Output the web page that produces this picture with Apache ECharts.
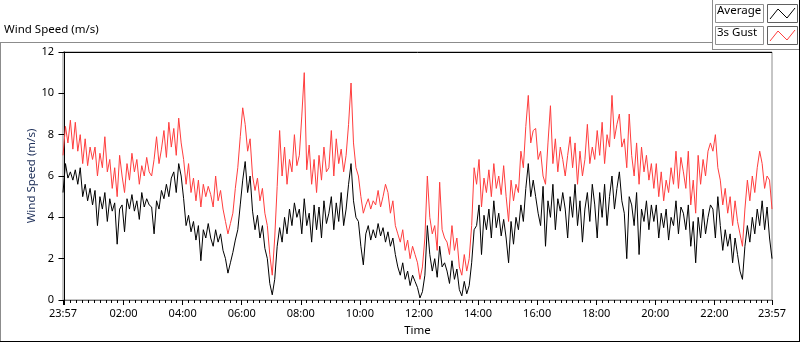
<!DOCTYPE html>
<html>
<head>
<meta charset="utf-8">
<script src="https://cdn.jsdelivr.net/npm/echarts@6/dist/echarts.min.js"></script>
<style>
html,body{margin:0;padding:0;background:#fff;}
#c{width:800px;height:342px;}
</style>
</head>
<body>
<div id="c"></div>
<script>
// Time axis: minutes relative to 00:00, samples every 5 minutes starting 23:57 (-3)
var startMinute = -3;
var stepMinutes = 5;
var axisMin = -3, axisMax = 1437;
var labelMinutes = [-3, 120, 240, 360, 480, 600, 720, 840, 960, 1080, 1200, 1320, 1437];
var majorTickMinutes = [-3, 0, 120, 240, 360, 480, 600, 720, 840, 960, 1080, 1200, 1320, 1437];
var yTicks = [0, 2, 4, 6, 8, 10, 12];

// Average wind speed (m/s), one row per hour
var average = [
  5.2, 6.6, 5.9, 6.2, 5.8, 6.3, 5.6, 6.4, 5.0, 5.6, 4.8, 5.4,
  4.6, 5.3, 3.6, 5.0, 4.4, 5.2, 3.8, 4.9, 4.3, 4.7, 2.7, 4.4,
  4.6, 3.3, 4.9, 4.4, 5.1, 4.3, 4.8, 3.9, 5.2, 4.5, 4.9, 4.6,
  4.5, 3.2, 4.8, 4.4, 5.3, 4.9, 5.6, 5.0, 5.9, 6.2, 5.2, 6.6,
  6.0, 4.9, 3.6, 4.1, 3.3, 3.8, 2.9, 3.6, 1.9, 3.4, 3.0, 3.7,
  3.0, 2.6, 3.4, 2.8, 3.2, 2.4, 2.0, 1.3, 1.8, 2.3, 2.9, 3.4,
  4.6, 5.8, 6.7, 5.2, 6.0, 4.3, 3.4, 4.1, 3.0, 3.6, 2.5, 2.0,
  0.8, 0.25, 1.0, 2.6, 3.5, 2.8, 4.0, 3.2, 4.4, 3.6, 4.7, 4.0,
  4.4, 3.2, 4.9, 3.6, 4.2, 2.8, 4.6, 3.4, 4.5, 3.0, 4.8, 3.7,
  4.2, 5.0, 3.4, 4.7, 3.8, 5.2, 3.6, 4.4, 5.6, 6.6, 4.8, 4.0,
  3.8, 2.6, 1.7, 3.2, 3.6, 2.9, 3.4, 3.0, 3.7, 3.1, 3.5, 2.8,
  3.3, 2.6, 3.0, 2.2, 1.6, 1.2, 1.8, 1.0, 1.4, 0.7, 1.2, 0.9,
  0.6, 0.1, 0.4, 1.2, 3.6, 2.2, 1.4, 2.0, 1.1, 2.6, 1.6, 1.8,
  1.4, 0.8, 1.9, 1.0, 1.5, 0.5, 0.2, 0.9, 0.3, 0.7, 1.8, 3.4,
  3.6, 4.6, 2.2, 4.1, 3.4, 4.4, 3.0, 4.8, 3.5, 4.2, 3.1, 3.9,
  3.0, 1.8, 3.8, 2.7, 4.0, 3.4, 4.6, 3.8, 5.4, 6.6, 5.0, 5.8,
  5.0, 4.2, 3.6, 5.5, 2.6, 4.8, 4.0, 5.6, 3.4, 4.9, 4.3, 5.2,
  4.4, 3.0, 5.0, 4.0, 5.6, 3.6, 4.8, 2.8, 4.4, 5.2, 3.8, 5.6,
  4.6, 3.0, 5.2, 4.0, 5.6, 3.6, 5.0, 6.0, 4.4, 5.4, 6.2, 4.8,
  4.2, 2.0, 5.0, 4.6, 3.6, 5.2, 2.2, 4.4, 3.8, 4.8, 3.4, 4.6,
  3.8, 4.6, 3.0, 4.2, 3.5, 4.4, 2.9, 4.0, 3.6, 4.8, 3.2, 4.5,
  4.2, 3.4, 4.6, 2.6, 3.8, 1.8, 4.0, 3.0, 4.4, 3.2, 4.0, 4.6,
  4.4, 3.0, 5.0, 3.6, 2.4, 3.4, 2.6, 3.2, 1.8, 3.0, 2.2, 1.4,
  1.0, 2.6, 3.6, 2.8, 4.0, 3.2, 4.4, 3.6, 4.8, 3.4, 4.5, 3.0,
  2.0
];

// 3 second gust (m/s), one row per hour
var gust = [
  7.0, 8.4, 7.6, 8.7, 7.3, 8.6, 7.2, 8.0, 6.6, 7.8, 6.5, 7.4,
  6.8, 7.4, 6.0, 7.1, 6.4, 7.9, 6.2, 6.8, 5.4, 6.4, 5.0, 7.0,
  6.0, 5.2, 6.6, 5.8, 7.1, 6.2, 6.8, 5.6, 6.5, 6.0, 6.9, 6.2,
  6.0, 6.8, 7.9, 6.6, 7.3, 8.2, 6.9, 8.6, 7.4, 8.3, 7.0, 8.8,
  7.6, 6.8, 5.6, 6.6, 5.2, 5.9, 4.8, 5.8, 4.5, 5.6, 5.0, 5.5,
  5.1, 4.5, 6.0, 4.8, 5.3, 4.4, 3.8, 3.2, 3.7, 4.2, 5.4, 6.4,
  7.9, 9.3, 8.5, 7.2, 7.8, 6.0, 5.3, 5.9, 4.8, 5.4, 4.2, 3.6,
  2.2, 1.2, 3.0, 5.5, 8.2, 6.0, 7.4, 5.6, 6.8, 6.2, 8.0, 6.5,
  7.0, 8.9, 11.0, 6.3, 7.5, 5.6, 6.8, 5.2, 7.0, 5.8, 7.4, 6.2,
  6.4, 8.2, 6.0, 7.8, 6.6, 7.3, 6.2, 7.0, 8.5, 10.5, 7.6, 6.4,
  6.0, 5.0, 4.2, 4.6, 4.9, 4.4, 4.8, 4.6, 5.3, 4.5, 5.0, 5.6,
  5.2, 4.2, 4.8, 3.6, 3.2, 2.8, 3.4, 2.4, 2.9, 2.0, 2.6, 2.2,
  1.8, 1.0, 1.6, 3.0, 6.0, 4.0, 3.2, 3.6, 2.4, 5.7, 3.4, 3.0,
  2.8, 2.2, 3.6, 2.4, 3.0, 1.6, 1.2, 2.2, 1.4, 2.0, 3.6, 6.4,
  5.6, 6.8, 4.5, 5.9, 5.2, 6.3, 5.0, 6.6, 5.4, 6.0, 5.1, 6.5,
  5.0, 3.8, 5.8, 4.8, 5.6, 5.2, 7.2, 6.4, 8.4, 9.9, 7.6, 8.2,
  8.3, 6.8, 7.2, 6.0, 5.6, 7.6, 9.4, 6.6, 7.8, 6.2, 7.4, 6.8,
  6.0, 7.0, 7.9, 6.4, 7.6, 5.6, 7.2, 6.0, 6.8, 8.5, 6.6, 7.4,
  6.8, 8.2, 7.0, 8.6, 6.6, 8.0, 7.4, 9.9, 7.8, 8.5, 9.0, 7.4,
  7.8, 6.4, 9.0, 7.0, 6.0, 7.6, 5.6, 7.4, 6.2, 7.0, 5.8, 6.6,
  5.4, 6.6, 5.0, 6.2, 4.8, 5.8, 5.2, 6.4, 5.6, 7.2, 5.4, 6.9,
  6.2, 5.4, 7.2, 4.6, 5.8, 4.2, 7.0, 5.6, 6.8, 6.0, 7.2, 7.6,
  7.2, 8.0, 6.4, 5.8, 4.6, 5.4, 4.2, 5.0, 3.6, 4.8, 3.8, 3.2,
  2.6, 4.4, 5.8, 4.8, 6.0, 5.2, 6.4, 7.2, 6.6, 5.4, 6.0, 5.8,
  4.4
];

var FONT = 'Noto Sans';
var TICK_FS = 11;
var TEXT_FS = 11.5;

function pad(n){ return (n < 10 ? '0' : '') + n; }
function fmtTime(v){
  var m = ((Math.round(v) % 1440) + 1440) % 1440;
  return pad(Math.floor(m / 60)) + ':' + pad(m % 60);
}
function toPairs(arr){
  return arr.map(function(v, i){ return [startMinute + i * stepMinutes, v]; });
}
var minorTicks = [];
for (var m = 12; m < axisMax; m += 12) { if (m % 120 !== 0) minorTicks.push(m); }

var chart = echarts.init(document.getElementById('c'), null, {renderer: 'canvas'});

var G = '#8c8c8c';
function line(x1, y1, x2, y2, color){
  return {type: 'line', silent: true, shape: {x1: x1, y1: y1, x2: x2, y2: y2},
          style: {stroke: color, lineWidth: 1}};
}
var textFont = TEXT_FS + 'px "' + FONT + '"';

var option = {
  animation: false,
  backgroundColor: '#ffffff',
  textStyle: {fontFamily: FONT},
  grid: {left: 63, right: 28, top: 52, bottom: 40, show: true,
         borderColor: '#8c8c8c', borderWidth: 1, backgroundColor: '#ffffff'},
  xAxis: [{
    type: 'value', min: axisMin, max: axisMax, position: 'bottom',
    name: 'Time', nameLocation: 'middle', nameGap: 25, nameMoveOverlap: false,
    nameTextStyle: {color: '#000', fontSize: TEXT_FS, fontFamily: FONT},
    axisLine: {show: true, lineStyle: {color: '#707070', width: 1}},
    axisTick: {show: true, customValues: majorTickMinutes, length: 5, inside: false,
               lineStyle: {color: '#000'}},
    axisLabel: {show: true, customValues: labelMinutes, formatter: fmtTime, margin: 8,
                color: '#000', fontSize: TICK_FS, fontFamily: FONT, showMinLabel: true, showMaxLabel: true},
    splitLine: {show: false}
  }, {
    type: 'value', min: axisMin, max: axisMax, position: 'bottom', offset: 0,
    axisLine: {show: false},
    axisTick: {show: true, customValues: minorTicks, length: 3, lineStyle: {color: '#000'}},
    axisLabel: {show: false},
    splitLine: {show: false}
  }],
  yAxis: [{
    type: 'value', min: 0, max: 12, interval: 2,
    name: 'Wind Speed (m/s)', nameLocation: 'middle', nameGap: 25, nameRotate: 90,
    nameMoveOverlap: false,
    nameTextStyle: {color: '#22335c', fontSize: TEXT_FS, fontFamily: FONT},
    axisLine: {show: true, lineStyle: {color: '#000', width: 1}},
    axisTick: {show: true, length: 6, lineStyle: {color: '#000'}},
    axisLabel: {color: '#000', fontSize: TICK_FS, fontFamily: FONT, margin: 9},
    splitLine: {show: false}
  }],
  series: [{
    name: '3s Gust', type: 'line', data: toPairs(gust), xAxisIndex: 0,
    showSymbol: false, symbol: 'none', smooth: false,
    lineStyle: {color: '#ff3d3d', width: 1}, itemStyle: {color: '#ff3d3d'}
  }, {
    name: 'Average', type: 'line', data: toPairs(average), xAxisIndex: 0,
    showSymbol: false, symbol: 'none', smooth: false,
    lineStyle: {color: '#000000', width: 1}, itemStyle: {color: '#000000'}
  }],
  graphic: [
    // outer frame
    line(0, 42.5, 712, 42.5, G),
    line(0.5, 42, 0.5, 342, G),
    line(712.5, 0, 712.5, 49.5, G),
    line(712, 49.5, 799, 49.5, G),
    line(799.5, 0, 799.5, 342, '#000'),
    line(0, 341.5, 800, 341.5, '#000'),
    // plot top edge
    line(63, 52.5, 772, 52.5, '#000'),
    // title
    {type: 'text', left: 4, top: 24, style: {text: 'Wind Speed (m/s)', fill: '#000', font: textFont}},
    // legend: Average
    {type: 'rect', shape: {x: 715.5, y: 4.5, width: 48, height: 18},
     style: {fill: '#fff', stroke: '#909090', lineWidth: 1}},
    {type: 'text', left: 717, top: 5, style: {text: 'Average', fill: '#000', font: textFont}},
    {type: 'rect', shape: {x: 767.5, y: 4.5, width: 30, height: 18},
     style: {fill: '#fff', stroke: '#606060', lineWidth: 1}},
    {type: 'polyline', shape: {points: [[770, 19], [778, 9], [787, 18], [795, 8]]},
     style: {stroke: '#000', lineWidth: 1, fill: null}},
    // legend: 3s Gust
    {type: 'rect', shape: {x: 715.5, y: 26.5, width: 48, height: 18},
     style: {fill: '#fff', stroke: '#909090', lineWidth: 1}},
    {type: 'text', left: 717, top: 27, style: {text: '3s Gust', fill: '#000', font: textFont}},
    {type: 'rect', shape: {x: 767.5, y: 26.5, width: 30, height: 18},
     style: {fill: '#fff', stroke: '#606060', lineWidth: 1}},
    {type: 'polyline', shape: {points: [[770, 41], [778, 31], [787, 40], [795, 30]]},
     style: {stroke: '#ff3d3d', lineWidth: 1, fill: null}}
  ]
};
chart.setOption(option);
</script>
</body>
</html>
